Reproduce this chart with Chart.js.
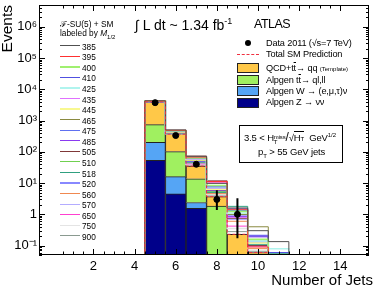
<!DOCTYPE html>
<html>
<head>
<meta charset="utf-8">
<title>Number of jets</title>
<script src="https://cdn.jsdelivr.net/npm/chart.js@4.4.1/dist/chart.umd.min.js"></script>
<style>
  html, body { margin: 0; padding: 0; background: #fff; }
  #wrap { position: relative; width: 374px; height: 288px; overflow: hidden;
          font-family: "Liberation Sans", Arial, sans-serif; color: #000; }
  #jetChart { position: absolute; left: 0; top: 0; }
  .lbl { position: absolute; white-space: nowrap; line-height: 1; }
  .leg { font-size: 9.2px; letter-spacing: -0.15px; }
  .box { position: absolute; left: 237px; width: 20px; height: 8px; border: 1px solid #222; }
  .ov { text-decoration: overline; }
  .sm { font-size: 6px; letter-spacing: 0; }
  .scr { display: inline-block; vertical-align: -3px; line-height: 0.85; font-size: 6px; }
  .scr span { display: block; }
  .srow { position: absolute; left: 60px; height: 10px; font-size: 8.3px; }
  .srow i { position: absolute; left: 0; width: 20px; }
  .srow b { position: absolute; left: 22px; top: 1px; font-weight: normal; }
</style>
</head>
<body>
<div id="wrap">
  <canvas id="jetChart" width="374" height="288"></canvas>

  <div class="lbl" style="right:1px;top:272px;font-size:15px;">Number of Jets</div>

  <div class="lbl" style="left:135px;top:16.5px;font-size:14px;">&#8747; L dt ~ 1.34 fb<sup style="font-size:9px;">-1</sup></div>
  <div class="lbl" style="left:254px;top:17.5px;font-size:12.5px;letter-spacing:-0.5px;">ATLAS</div>

  <div class="lbl" style="left:245px;top:40px;width:6px;height:6px;border-radius:3px;background:#000;"></div>
  <div class="lbl leg" style="left:266px;top:38.5px;">Data 2011 (&#8730;s=7 TeV)</div>
  <div class="lbl" style="left:237px;top:54px;width:22px;border-top:1px dashed #f03040;"></div>
  <div class="lbl leg" style="left:266px;top:50px;">Total SM Prediction</div>
  <div class="box" style="top:63px;background:#ffc848;"></div>
  <div class="lbl leg" style="left:266px;top:63.5px;">QCD+t<span class="ov">t</span>&#8594; qq <span class="sm">(Template)</span></div>
  <div class="box" style="top:75px;background:#a0f060;"></div>
  <div class="lbl leg" style="left:266px;top:75.5px;">Alpgen t<span class="ov">t</span>&#8594; ql,ll</div>
  <div class="box" style="top:86px;background:#55a5f5;"></div>
  <div class="lbl leg" style="left:266px;top:86.5px;">Alpgen W &#8594; (e,&#956;,&#964;)&#957;</div>
  <div class="box" style="top:98px;background:#00008a;"></div>
  <div class="lbl leg" style="left:266px;top:98px;">Alpgen Z &#8594; &#957;&#957;</div>

  <div class="lbl" style="left:239px;top:125px;width:102px;height:36px;border:1px solid #000;background:#fff;"></div>
  <div class="lbl leg" style="left:244px;top:131px;font-size:9.5px;">3.5 &lt; H<span class="scr"><span>miss</span><span>T</span></span><span style="font-size:12px;">/</span>&#8730;<span style="border-top:1px solid #000;">H<span class="sm">T</span></span>&nbsp; GeV<sup class="sm">1/2</sup></div>
  <div class="lbl leg" style="left:258px;top:147px;font-size:9.5px;">p<sub class="sm">T</sub> &gt; 55 GeV jets</div>

  <div class="lbl" style="left:60px;top:20px;font-size:8.3px;">&#8497;-SU(5) + SM</div>
  <div class="lbl" style="left:60px;top:29px;font-size:8.3px;">labeled by <i>M</i><sub class="sm">1/2</sub></div>
  <div id="sigLegend"></div>
</div>

<script>
// bins: number of jets
var jets = [5, 6, 7, 8, 9, 10, 11];
var xTicks = [2, 4, 6, 8, 10, 12, 14];
var yTicks = [0.1, 1, 10, 100, 1000, 10000, 100000, 1000000];
var yTickLabels = ["10\u207B\u00B9", "1", "10\u00B9", "10\u00B2", "10\u00B3", "10\u2074", "10\u2075", "10\u2076"];

// SM backgrounds (stacked)
var zNuNu = [54, 4.5, 1.55, null, null, null, null];
var wLepNu = [146, 11.6, 0.84, null, null, null, null];
var ttLep = [542, 86, 11.3, 1.83, null, null, null];
var qcdTemplate = [3230, 265, 21.3, 1.87, 0.23, 0.06, null];

// data 2011
var dataJets = [5, 6, 7, 8, 9];
var dataCounts = [3750, 333, 40, 3, 1];
var dataLow = [3690, 315, 33.6, 1.37, 0.173];
var dataHigh = [3811, 352, 47.7, 5.92, 3.3];

// F-SU(5) + SM, labeled by M1/2
var sigMasses = ["385", "395", "400", "410", "425", "435", "445", "465", "475", "485",
                 "505", "510", "518", "520", "560", "570", "650", "750", "900"];
var sig385 = [4300, 505, 72, 9.8, 1.6, 0.3, 0.134];
var sig395 = [4250, 490, 68, 11.2, 1.45, 0.09, 0];
var sig400 = [4220, 470, 64, 8.4, 1.25, 0.16, 0];
var sig410 = [4200, 465, 62, 7.6, 1.5, 0.2, 0.06];
var sig425 = [4180, 455, 60, 7.2, 1.1, 0.14, 0.079];
var sig435 = [4150, 445, 57, 6.9, 0.8, 0.2, 0];
var sig445 = [4130, 435, 55, 6.4, 1.1, 0.12, 0];
var sig465 = [4120, 430, 53, 6.1, 1.0, 0.4, 0];
var sig475 = [4100, 425, 52, 7.1, 1.3, 0.21, 0];
var sig485 = [4080, 420, 50, 5.8, 0.85, 0.19, 0];
var sig505 = [4060, 415, 73, 11.8, 0.75, 0.1, 0];
var sig510 = [4050, 410, 48, 5.3, 1.0, 0.15, 0];
var sig518 = [4040, 405, 47, 5.0, 1.8, 0.11, 0.055];
var sig520 = [4030, 400, 46, 5.5, 0.95, 0.13, 0];
var sig560 = [4020, 395, 44, 4.6, 0.6, 0.08, 0];
var sig570 = [4010, 390, 43, 4.8, 0.7, 0.1, 0];
var sig650 = [4000, 385, 41, 10.2, 0.42, 0.095, 0];
var sig750 = [3990, 378, 39, 4.2, 0.35, 0.07, 0];
var sig900 = [3980, 372, 37, 4.0, 0.28, 0.065, 0];
var sigValues = [sig385, sig395, sig400, sig410, sig425, sig435, sig445, sig465, sig475, sig485,
                 sig505, sig510, sig518, sig520, sig560, sig570, sig650, sig750, sig900];

var sigColors = ["#505050", "#ff3030", "#a0f070", "#5050e0", "#b0f4ee", "#e070ff", "#f8f890", "#8a8a40", "#6070f0", "#8a3af0",
                 "#803838", "#70d050", "#30a080", "#8888ff", "#f08850", "#b4acff", "#ff40d0", "#e4e4e4", "#8a9a90"];
var sigWidths = [1, 1, 1.5, 1, 1.5, 1, 1.5, 1, 1.5, 1, 1, 1, 1, 1.5, 1, 1.5, 1, 1.5, 1];

var Y_MIN = 0.05, Y_MAX = 5e6, Y_FLOOR = 0.01;

// step-histogram outline from bin contents
function stepPoints(values) {
  var pts = [{ x: jets[0] - 0.5, y: Y_FLOOR }];
  jets.forEach(function (j, i) {
    pts.push({ x: j - 0.5, y: values[i] > 0 ? values[i] : Y_FLOOR });
  });
  var last = jets.length - 1;
  pts.push({ x: jets[last] + 0.5, y: values[last] > 0 ? values[last] : Y_FLOOR });
  pts.push({ x: jets[last] + 0.5, y: Y_FLOOR });
  return pts;
}

function barData(values) {
  return jets.map(function (j, i) { return { x: j, y: values[i] }; });
}

var smTotal = jets.map(function (j, i) {
  return [zNuNu, wLepNu, ttLep, qcdTemplate].reduce(function (s, arr) { return s + (arr[i] || 0); }, 0);
});

var datasets = [];
datasets.push({
  type: "line", label: "Data 2011", stack: "data", order: 0,
  data: dataJets.map(function (j, i) { return { x: j, y: dataCounts[i] }; }),
  showLine: false, pointRadius: 3, pointBackgroundColor: "#000", pointBorderColor: "#000", borderColor: "#000"
});
datasets.push({
  type: "line", label: "Total SM Prediction", stack: "smtotal", order: 1,
  data: stepPoints(smTotal), stepped: true, borderColor: "#f03040", borderWidth: 1,
  borderDash: [3, 2], pointRadius: 0, fill: false
});
sigMasses.forEach(function (m, i) {
  datasets.push({
    type: "line", label: m, stack: "sig" + m, order: 2,
    data: stepPoints(sigValues[i]), stepped: true, borderColor: sigColors[i],
    borderWidth: sigWidths[i], pointRadius: 0, fill: false
  });
});
[
  ["Alpgen Z", zNuNu, "#00008a"],
  ["Alpgen W", wLepNu, "#55a5f5"],
  ["Alpgen tt", ttLep, "#a0f060"],
  ["QCD", qcdTemplate, "#ffc848"]
].forEach(function (b) {
  datasets.push({
    type: "bar", label: b[0], stack: "sm", order: 3, data: barData(b[1]),
    backgroundColor: b[2], borderColor: "#222", borderWidth: 1,
    barPercentage: 1, categoryPercentage: 1
  });
});

var errorBars = {
  id: "errorBars",
  afterDatasetsDraw: function (chart) {
    var ctx = chart.ctx, xs = chart.scales.x, ys = chart.scales.y;
    ctx.save();
    ctx.strokeStyle = "#000";
    ctx.lineWidth = 2;
    ctx.beginPath();
    dataJets.forEach(function (j, i) {
      var px = xs.getPixelForValue(j);
      ctx.moveTo(px, ys.getPixelForValue(dataLow[i]));
      ctx.lineTo(px, ys.getPixelForValue(dataHigh[i]));
    });
    ctx.stroke();
    ctx.restore();
  }
};

// ROOT-style frame with inward ticks
var frameTicks = {
  id: "frameTicks",
  afterDraw: function (chart) {
    var ctx = chart.ctx, a = chart.chartArea;
    var xs = chart.scales.x, ys = chart.scales.y;
    ctx.save();
    ctx.strokeStyle = "#000";
    ctx.lineWidth = 1;
    ctx.beginPath();
    for (var v = 0.5; v <= xs.max + 1e-9; v += 0.5) {
      var px = Math.round(xs.getPixelForValue(v)) + 0.5;
      var len = xTicks.indexOf(v) >= 0 ? 6 : 3.5;
      ctx.moveTo(px, a.bottom); ctx.lineTo(px, a.bottom - len);
      ctx.moveTo(px, a.top); ctx.lineTo(px, a.top + len);
    }
    for (var e = -2; e <= 7; e++) {
      for (var m = 1; m <= 9; m++) {
        var val = m * Math.pow(10, e);
        if (val < ys.min || val > ys.max) continue;
        var py = Math.round(ys.getPixelForValue(val)) + 0.5;
        var l = m === 1 ? 6 : 3;
        ctx.moveTo(a.left, py); ctx.lineTo(a.left + l, py);
        ctx.moveTo(a.right, py); ctx.lineTo(a.right - l, py);
      }
    }
    ctx.stroke();
    ctx.strokeRect(a.left + 0.5, a.top + 0.5, a.right - a.left - 1, a.bottom - a.top - 1);
    ctx.restore();
  }
};

Chart.defaults.font.family = "'Liberation Sans', Arial, sans-serif";
Chart.defaults.color = "#000";

var ctx = document.getElementById("jetChart").getContext("2d");
var chart = new Chart(ctx, {
  type: "bar",
  data: { datasets: datasets },
  options: {
    responsive: false,
    animation: false,
    devicePixelRatio: 1,
    layout: { padding: { top: 2, right: 5, left: 0, bottom: 0 } },
    plugins: { legend: { display: false }, tooltip: { enabled: false } },
    scales: {
      x: {
        type: "linear", min: 0.5, max: 14.25, stacked: true,
        grid: { display: false, drawTicks: false }, border: { display: false },
        afterBuildTicks: function (s) { s.ticks = xTicks.map(function (v) { return { value: v }; }); },
        afterFit: function (s) { s.height = 33; s.paddingLeft = 0; s.paddingRight = 0; },
        ticks: { autoSkip: false, maxRotation: 0, padding: 4, font: { size: 13 },
                 callback: function (v) { return String(v); } }
      },
      y: {
        type: "logarithmic", min: Y_MIN, max: Y_MAX, stacked: true,
        grid: { display: false, drawTicks: false }, border: { display: false },
        title: { display: true, text: "Events", align: "end", font: { size: 15.5, lineHeight: 1 },
                 padding: { top: 0, bottom: 0 } },
        afterBuildTicks: function (s) { s.ticks = yTicks.map(function (v) { return { value: v }; }); },
        afterFit: function (s) { s.width = 39; s.paddingTop = 0; s.paddingBottom = 0; },
        ticks: { autoSkip: false, padding: 2, font: { size: 13 },
                 callback: function (v, i) { return yTickLabels[i]; } }
      }
    }
  },
  plugins: [errorBars, frameTicks]
});

// signal legend on the left
var sigLegend = document.getElementById("sigLegend");
sigMasses.forEach(function (m, i) {
  var row = document.createElement("div");
  row.className = "srow";
  row.style.top = (40.7 + i * 10.57) + "px";
  var line = document.createElement("i");
  line.style.top = (5 - sigWidths[i] / 2) + "px";
  line.style.height = sigWidths[i] + "px";
  line.style.background = sigColors[i];
  var txt = document.createElement("b");
  txt.textContent = m;
  row.appendChild(line);
  row.appendChild(txt);
  sigLegend.appendChild(row);
});
</script>
</body>
</html>
